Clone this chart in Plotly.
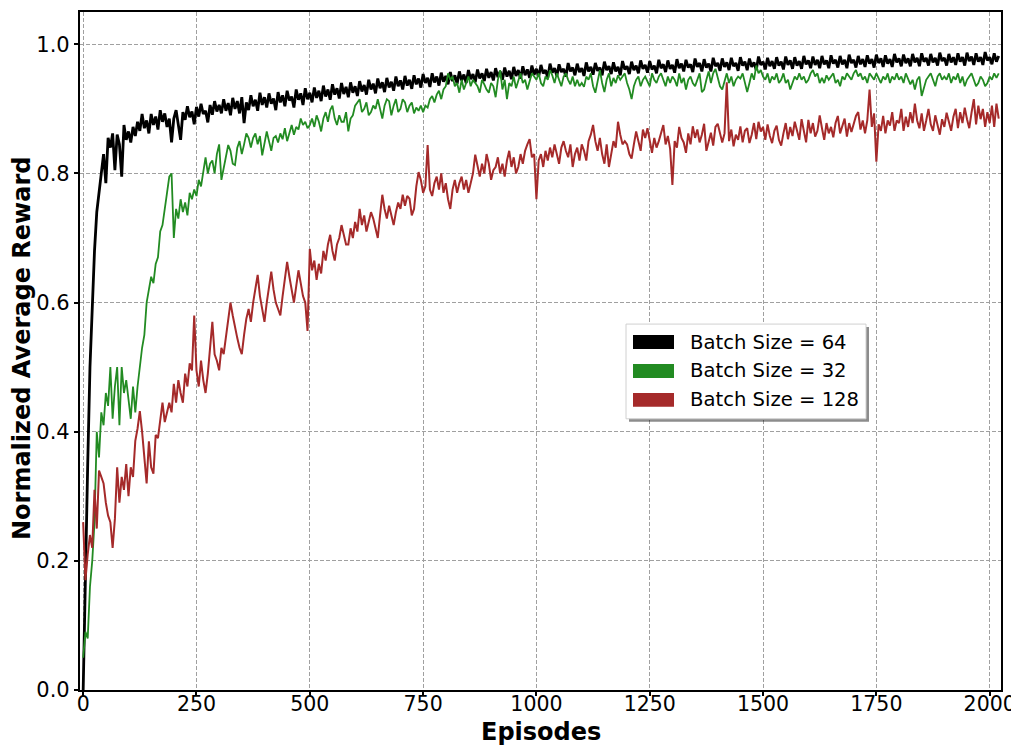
import plotly.graph_objects as go

episodes = list(range(0, 2021, 5))

reward_bs64 = [
    0.0, 0.20, 0.35, 0.50, 0.60, 0.68, 0.74, 0.775, 0.80, 0.83, 0.785, 0.855, 0.84, 0.862, 0.805, 0.86, 0.845, 0.795, 0.875, 0.852,
    0.865, 0.848, 0.872, 0.858, 0.88, 0.866, 0.892, 0.87, 0.882, 0.862, 0.892, 0.875, 0.888, 0.868, 0.898, 0.88, 0.893, 0.872, 0.885, 0.848,
    0.885, 0.898, 0.878, 0.852, 0.895, 0.883, 0.904, 0.887, 0.896, 0.876, 0.903, 0.888, 0.908, 0.892, 0.897, 0.879, 0.906, 0.891, 0.912, 0.896,
    0.906, 0.893, 0.915, 0.897, 0.909, 0.89, 0.917, 0.9, 0.912, 0.893, 0.918, 0.878, 0.91, 0.898, 0.921, 0.904, 0.914, 0.897, 0.925, 0.906,
    0.918, 0.902, 0.924, 0.908, 0.916, 0.898, 0.926, 0.91, 0.921, 0.904, 0.928, 0.913, 0.919, 0.902, 0.93, 0.914, 0.924, 0.906, 0.932, 0.915,
    0.925, 0.91, 0.933, 0.917, 0.928, 0.912, 0.936, 0.919, 0.93, 0.914, 0.938, 0.922, 0.932, 0.916, 0.94, 0.923, 0.934, 0.918, 0.941, 0.925,
    0.935, 0.92, 0.943, 0.927, 0.937, 0.922, 0.945, 0.93, 0.939, 0.924, 0.947, 0.932, 0.941, 0.926, 0.948, 0.933, 0.942, 0.928, 0.95, 0.935,
    0.944, 0.93, 0.951, 0.936, 0.945, 0.931, 0.952, 0.938, 0.947, 0.933, 0.954, 0.94, 0.948, 0.934, 0.955, 0.941, 0.95, 0.936, 0.956, 0.942,
    0.951, 0.938, 0.957, 0.943, 0.952, 0.939, 0.958, 0.944, 0.953, 0.94, 0.96, 0.946, 0.954, 0.941, 0.961, 0.947, 0.955, 0.943, 0.962, 0.948,
    0.957, 0.944, 0.963, 0.949, 0.958, 0.945, 0.964, 0.95, 0.959, 0.946, 0.965, 0.951, 0.96, 0.947, 0.966, 0.952, 0.961, 0.948, 0.967, 0.953,
    0.962, 0.95, 0.968, 0.955, 0.96, 0.948, 0.97, 0.956, 0.963, 0.951, 0.969, 0.957, 0.962, 0.95, 0.971, 0.958, 0.964, 0.952, 0.97, 0.957,
    0.963, 0.951, 0.972, 0.958, 0.965, 0.953, 0.971, 0.959, 0.964, 0.952, 0.973, 0.96, 0.966, 0.954, 0.972, 0.958, 0.965, 0.952, 0.974, 0.961,
    0.966, 0.954, 0.973, 0.96, 0.967, 0.955, 0.975, 0.962, 0.968, 0.956, 0.974, 0.961, 0.967, 0.955, 0.976, 0.963, 0.969, 0.957, 0.975, 0.962,
    0.968, 0.956, 0.977, 0.963, 0.97, 0.958, 0.976, 0.964, 0.969, 0.957, 0.978, 0.965, 0.971, 0.958, 0.977, 0.964, 0.97, 0.958, 0.979, 0.966,
    0.971, 0.959, 0.978, 0.965, 0.972, 0.96, 0.979, 0.966, 0.971, 0.959, 0.98, 0.967, 0.973, 0.96, 0.978, 0.965, 0.972, 0.96, 0.981, 0.968,
    0.973, 0.961, 0.979, 0.966, 0.974, 0.962, 0.98, 0.967, 0.973, 0.961, 0.981, 0.968, 0.975, 0.962, 0.98, 0.967, 0.974, 0.962, 0.982, 0.969,
    0.975, 0.963, 0.981, 0.968, 0.976, 0.963, 0.982, 0.969, 0.975, 0.963, 0.983, 0.97, 0.976, 0.964, 0.982, 0.969, 0.976, 0.963, 0.984, 0.971,
    0.976, 0.964, 0.982, 0.969, 0.977, 0.965, 0.983, 0.97, 0.977, 0.964, 0.984, 0.971, 0.978, 0.965, 0.983, 0.97, 0.977, 0.965, 0.985, 0.972,
    0.978, 0.966, 0.984, 0.971, 0.978, 0.966, 0.985, 0.972, 0.979, 0.966, 0.986, 0.973, 0.979, 0.967, 0.985, 0.972, 0.979, 0.967, 0.987, 0.974,
    0.979, 0.967, 0.985, 0.972, 0.98, 0.968, 0.986, 0.973, 0.98, 0.967, 0.987, 0.974, 0.981, 0.968, 0.986, 0.973, 0.98, 0.968, 0.988, 0.975,
    0.98, 0.969, 0.986, 0.973, 0.982,
]

reward_bs32 = [
    0.05, 0.09, 0.08, 0.16, 0.20, 0.26, 0.40, 0.36, 0.43, 0.41, 0.46, 0.44, 0.50, 0.42, 0.47, 0.50, 0.41, 0.50, 0.46, 0.48,
    0.45, 0.42, 0.47, 0.43, 0.47, 0.50, 0.53, 0.55, 0.60, 0.62, 0.64, 0.63, 0.66, 0.67, 0.71, 0.72, 0.75, 0.77, 0.795, 0.80,
    0.70, 0.745, 0.73, 0.76, 0.74, 0.755, 0.735, 0.77, 0.76, 0.775, 0.765, 0.79, 0.78, 0.80, 0.825, 0.80, 0.815, 0.82, 0.80, 0.83,
    0.845, 0.79, 0.81, 0.83, 0.844, 0.835, 0.815, 0.813, 0.84, 0.85, 0.83, 0.845, 0.862, 0.855, 0.84, 0.855, 0.862, 0.845, 0.858, 0.828,
    0.845, 0.865, 0.85, 0.835, 0.855, 0.858, 0.848, 0.862, 0.853, 0.87, 0.85, 0.862, 0.875, 0.86, 0.872, 0.868, 0.885, 0.875, 0.88, 0.87,
    0.875, 0.885, 0.872, 0.89, 0.88, 0.865, 0.885, 0.895, 0.88, 0.898, 0.905, 0.885, 0.875, 0.89, 0.88, 0.88, 0.895, 0.865, 0.885, 0.89,
    0.905, 0.91, 0.915, 0.895, 0.9, 0.91, 0.89, 0.895, 0.905, 0.9, 0.915, 0.9, 0.885, 0.905, 0.915, 0.912, 0.89, 0.905, 0.915, 0.895,
    0.9, 0.915, 0.91, 0.895, 0.905, 0.91, 0.893, 0.902, 0.897, 0.905, 0.895, 0.905, 0.902, 0.915, 0.92, 0.91, 0.922, 0.928, 0.915, 0.93,
    0.935, 0.955, 0.945, 0.95, 0.935, 0.94, 0.925, 0.945, 0.93, 0.94, 0.95, 0.935, 0.945, 0.94, 0.935, 0.925, 0.945, 0.938, 0.93, 0.925,
    0.94, 0.935, 0.918, 0.945, 0.96, 0.93, 0.945, 0.915, 0.94, 0.935, 0.95, 0.932, 0.945, 0.955, 0.94, 0.945, 0.93, 0.945, 0.955, 0.95,
    0.945, 0.955, 0.94, 0.935, 0.95, 0.945, 0.96, 0.952, 0.94, 0.955, 0.945, 0.935, 0.95, 0.955, 0.945, 0.938, 0.95, 0.935, 0.945, 0.935,
    0.94, 0.934, 0.95, 0.945, 0.955, 0.935, 0.925, 0.945, 0.96, 0.94, 0.926, 0.945, 0.955, 0.935, 0.948, 0.94, 0.952, 0.945, 0.95, 0.955,
    0.94, 0.93, 0.915, 0.935, 0.945, 0.95, 0.935, 0.945, 0.95, 0.941, 0.935, 0.955, 0.945, 0.94, 0.95, 0.955, 0.945, 0.935, 0.95, 0.94,
    0.95, 0.945, 0.935, 0.955, 0.94, 0.948, 0.93, 0.945, 0.95, 0.94, 0.935, 0.945, 0.955, 0.926, 0.93, 0.945, 0.958, 0.94, 0.955, 0.962,
    0.95, 0.935, 0.93, 0.945, 0.955, 0.94, 0.95, 0.935, 0.945, 0.95, 0.947, 0.955, 0.94, 0.926, 0.94, 0.955, 0.945, 0.967, 0.955, 0.96,
    0.95, 0.945, 0.955, 0.94, 0.95, 0.945, 0.955, 0.94, 0.945, 0.955, 0.94, 0.945, 0.93, 0.94, 0.95, 0.945, 0.955, 0.945, 0.95, 0.94,
    0.945, 0.955, 0.96, 0.95, 0.955, 0.94, 0.948, 0.94, 0.952, 0.945, 0.95, 0.955, 0.94, 0.945, 0.935, 0.95, 0.945, 0.955, 0.95, 0.945,
    0.955, 0.96, 0.95, 0.955, 0.945, 0.95, 0.94, 0.955, 0.95, 0.945, 0.955, 0.948, 0.94, 0.95, 0.945, 0.955, 0.94, 0.95, 0.945, 0.955,
    0.945, 0.95, 0.94, 0.955, 0.945, 0.938, 0.945, 0.93, 0.945, 0.95, 0.92, 0.935, 0.945, 0.95, 0.955, 0.945, 0.935, 0.95, 0.955, 0.945,
    0.95, 0.945, 0.955, 0.94, 0.95, 0.945, 0.955, 0.94, 0.95, 0.935, 0.945, 0.95, 0.955, 0.945, 0.935, 0.94, 0.95, 0.945, 0.935, 0.94,
    0.95, 0.945, 0.955, 0.948, 0.955,
]

reward_bs128 = [
    0.26, 0.17, 0.21, 0.24, 0.22, 0.31, 0.25, 0.34, 0.33, 0.32, 0.29, 0.27, 0.26, 0.22, 0.265, 0.345, 0.29, 0.33, 0.31, 0.35,
    0.30, 0.345, 0.33, 0.386, 0.405, 0.432, 0.40, 0.36, 0.32, 0.385, 0.345, 0.335, 0.395, 0.39, 0.42, 0.445, 0.415, 0.43, 0.445, 0.43,
    0.474, 0.445, 0.48, 0.46, 0.445, 0.49, 0.47, 0.506, 0.495, 0.58, 0.495, 0.47, 0.51, 0.48, 0.46, 0.49, 0.53, 0.57, 0.52, 0.51,
    0.495, 0.53, 0.52, 0.55, 0.57, 0.60, 0.58, 0.56, 0.545, 0.53, 0.52, 0.55, 0.575, 0.59, 0.57, 0.60, 0.625, 0.643, 0.61, 0.59,
    0.57, 0.60, 0.625, 0.648, 0.62, 0.60, 0.59, 0.58, 0.61, 0.635, 0.663, 0.64, 0.62, 0.60, 0.625, 0.65, 0.63, 0.61, 0.60, 0.556,
    0.683, 0.65, 0.665, 0.635, 0.66, 0.645, 0.68, 0.665, 0.69, 0.705, 0.68, 0.665, 0.69, 0.70, 0.72, 0.705, 0.69, 0.69, 0.715, 0.70,
    0.725, 0.71, 0.745, 0.72, 0.735, 0.71, 0.725, 0.74, 0.73, 0.715, 0.70, 0.735, 0.767, 0.745, 0.73, 0.75, 0.735, 0.72, 0.74, 0.755,
    0.745, 0.767, 0.75, 0.765, 0.761, 0.735, 0.745, 0.78, 0.802, 0.79, 0.77, 0.78, 0.844, 0.775, 0.765, 0.785, 0.795, 0.775, 0.80, 0.77,
    0.785, 0.76, 0.745, 0.775, 0.79, 0.77, 0.785, 0.795, 0.775, 0.79, 0.77, 0.785, 0.80, 0.829, 0.81, 0.795, 0.815, 0.80, 0.83, 0.815,
    0.79, 0.805, 0.81, 0.825, 0.80, 0.815, 0.795, 0.82, 0.835, 0.81, 0.825, 0.80, 0.81, 0.83, 0.815, 0.835, 0.845, 0.853, 0.825, 0.83,
    0.76, 0.82, 0.83, 0.81, 0.835, 0.82, 0.84, 0.825, 0.845, 0.83, 0.815, 0.84, 0.85, 0.835, 0.825, 0.845, 0.81, 0.83, 0.84, 0.82,
    0.845, 0.835, 0.82, 0.85, 0.86, 0.875, 0.85, 0.835, 0.855, 0.83, 0.815, 0.845, 0.81, 0.83, 0.85, 0.84, 0.88, 0.86, 0.845, 0.85,
    0.845, 0.83, 0.823, 0.845, 0.865, 0.85, 0.835, 0.868, 0.855, 0.87, 0.85, 0.832, 0.855, 0.84, 0.85, 0.862, 0.875, 0.845, 0.858, 0.838,
    0.782, 0.85, 0.84, 0.872, 0.855, 0.848, 0.832, 0.862, 0.845, 0.873, 0.855, 0.868, 0.848, 0.86, 0.877, 0.835, 0.85, 0.863, 0.843, 0.872,
    0.877, 0.86, 0.848, 0.862, 0.941, 0.85, 0.868, 0.842, 0.86, 0.852, 0.873, 0.848, 0.866, 0.87, 0.847, 0.86, 0.878, 0.853, 0.88, 0.865,
    0.872, 0.852, 0.876, 0.858, 0.847, 0.866, 0.874, 0.852, 0.843, 0.862, 0.878, 0.853, 0.872, 0.858, 0.88, 0.866, 0.852, 0.884, 0.865, 0.848,
    0.883, 0.862, 0.878, 0.857, 0.866, 0.89, 0.87, 0.852, 0.878, 0.862, 0.872, 0.856, 0.878, 0.889, 0.862, 0.872, 0.885, 0.857, 0.878, 0.864,
    0.876, 0.889, 0.895, 0.868, 0.882, 0.862, 0.882, 0.93, 0.872, 0.893, 0.818, 0.876, 0.866, 0.889, 0.862, 0.882, 0.874, 0.895, 0.866, 0.882,
    0.878, 0.9, 0.866, 0.888, 0.872, 0.895, 0.878, 0.908, 0.882, 0.87, 0.893, 0.866, 0.882, 0.9, 0.876, 0.866, 0.89, 0.872, 0.86, 0.884,
    0.872, 0.894, 0.878, 0.866, 0.888, 0.9, 0.87, 0.895, 0.878, 0.902, 0.884, 0.87, 0.894, 0.915, 0.876, 0.905, 0.884, 0.9, 0.872, 0.895,
    0.878, 0.905, 0.872, 0.908, 0.885,
]

series_labels = ["Batch Size = 64", "Batch Size = 32", "Batch Size = 128"]
series_colors = ["#000000", "#228B22", "#A52A2A"]
x_ticks = [0, 250, 500, 750, 1000, 1250, 1500, 1750, 2000]
y_ticks = [0.0, 0.2, 0.4, 0.6, 0.8, 1.0]

for s in (reward_bs64, reward_bs32, reward_bs128):
    assert len(s) == len(episodes), len(s)

# ---------------- layout constants (window pixels) ----------------
W, H = 1019, 745
OFF = 8                      # default <body> margin of the written page
L, R, T, B = 80, 1001, 10, 690   # wanted plot-area edges in the window
line_widths = [2.8, 1.8, 2.0]


def px(xp):
    return (xp - L) / (R - L)


def py(yp):
    return (B - yp) / (B - T)


fig = go.Figure()
for ys, name, col, lw in zip([reward_bs64, reward_bs32, reward_bs128], series_labels, series_colors, line_widths):
    fig.add_trace(go.Scatter(x=episodes, y=ys, mode="lines", name=name,
                             line=dict(color=col, width=lw), showlegend=False))

axis_common = dict(
    showgrid=True, gridcolor="#a0a0a0", gridwidth=1, griddash="4px,2px",
    showline=True, linecolor="black", linewidth=2.2, mirror=True,
    ticks="outside", ticklen=4, tickwidth=1.5, tickcolor="black",
    zeroline=False,
)
fig.update_xaxes(range=[-7, 2025], tickvals=x_ticks, ticktext=[str(v) for v in x_ticks],
                 tickfont=dict(family="DejaVu Sans", size=20.5, color="black"),
                 ticklabelstandoff=-10, **axis_common)
fig.update_yaxes(range=[0, 1.05], tickvals=y_ticks, ticktext=[f"{v:.1f}" for v in y_ticks],
                 tickfont=dict(family="DejaVu Sans", size=21, color="black"), **axis_common)

# ---------------- manual legend (matplotlib style patches) ----------------
shapes = []
annotations = []
box = (626, 323, 866, 418)
shapes.append(dict(type="rect", xref="paper", yref="paper", layer="above",
                   x0=px(box[0] + 3), x1=px(box[2] + 3), y0=py(box[3] + 3), y1=py(box[1] + 3),
                   fillcolor="rgba(0,0,0,0.45)", line=dict(width=0)))
shapes.append(dict(type="rect", xref="paper", yref="paper", layer="above",
                   x0=px(box[0]), x1=px(box[2]), y0=py(box[3]), y1=py(box[1]),
                   fillcolor="white", line=dict(color="#d0d0d0", width=1)))
row_centers = [341, 370, 399]
for yc, name, col in zip(row_centers, series_labels, series_colors):
    shapes.append(dict(type="rect", xref="paper", yref="paper", layer="above",
                       x0=px(633), x1=px(674), y0=py(yc + 7), y1=py(yc - 7),
                       fillcolor=col, line=dict(width=0)))
    annotations.append(dict(xref="paper", yref="paper", x=px(688), y=py(yc),
                            xanchor="left", yanchor="middle", showarrow=False, text=name,
                            font=dict(family="DejaVu Sans", size=19.6, color="black")))

annotations.append(dict(xref="paper", yref="paper", x=px(22), y=py(348), xanchor="center",
                        yanchor="middle", textangle=-90, showarrow=False,
                        text="<b>Normalized Average Reward</b>",
                        font=dict(family="DejaVu Sans", size=24, color="black")))
annotations.append(dict(xref="paper", yref="paper", x=0.5, y=py(732), xanchor="center",
                        yanchor="middle", showarrow=False, text="<b>Episodes</b>",
                        font=dict(family="DejaVu Sans", size=24, color="black")))

fig.update_layout(
    width=W, height=H,
    margin=dict(l=L - OFF, r=W - (R - OFF), t=T - OFF, b=H - (B - OFF), pad=0),
    paper_bgcolor="white", plot_bgcolor="white",
    showlegend=False,
    font=dict(family="DejaVu Sans", color="black"),
    shapes=shapes, annotations=annotations,
)

fig.write_html("out.html")
